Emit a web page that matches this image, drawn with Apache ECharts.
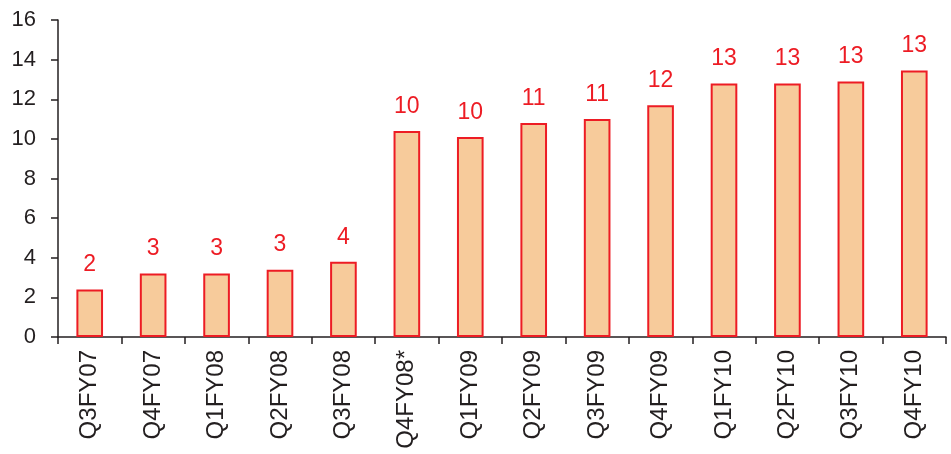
<!DOCTYPE html>
<html>
<head>
<meta charset="utf-8">
<script src="https://cdn.jsdelivr.net/npm/echarts@6/dist/echarts.min.js"></script>
<style>
  html, body { margin: 0; padding: 0; background: #ffffff; }
  #chart { width: 951px; height: 454px; }
</style>
</head>
<body>
<div id="chart"></div>
<script>
// Quarterly values
const quarters = ['Q3FY07', 'Q4FY07', 'Q1FY08', 'Q2FY08', 'Q3FY08', 'Q4FY08*', 'Q1FY09',
                  'Q2FY09', 'Q3FY09', 'Q4FY09', 'Q1FY10', 'Q2FY10', 'Q3FY10', 'Q4FY10'];
const values = [2.4, 3.2, 3.2, 3.4, 3.8, 10.4, 10.1, 10.8, 11.0, 11.7, 12.8, 12.8, 12.9, 13.45];
const yTicks = { min: 0, max: 16, interval: 2 };

const axisColor = '#231f20';
const textFont = 'Liberation Sans, Arial, sans-serif';

const chart = echarts.init(document.getElementById('chart'), null, { renderer: 'canvas' });
chart.setOption({
  animation: false,
  backgroundColor: '#ffffff',
  grid: { left: 58, right: 5, top: 20, bottom: 117, containLabel: false },
  xAxis: {
    type: 'category',
    data: quarters,
    boundaryGap: true,
    axisLine: { show: true, lineStyle: { color: axisColor, width: 1.5 } },
    axisTick: { show: true, alignWithLabel: false, length: 7, lineStyle: { color: axisColor, width: 1.5 } },
    axisLabel: {
      rotate: 90, margin: 13, interval: 0,
      color: axisColor, fontSize: 24, fontFamily: textFont
    },
    splitLine: { show: false }
  },
  yAxis: {
    type: 'value',
    min: yTicks.min, max: yTicks.max, interval: yTicks.interval,
    axisLine: { show: true, lineStyle: { color: axisColor, width: 1.5 } },
    axisTick: { show: true, inside: false, length: 7, lineStyle: { color: axisColor, width: 1.5 } },
    axisLabel: { margin: 22, color: axisColor, fontSize: 22, fontFamily: textFont },
    splitLine: { show: false }
  },
  series: [{
    type: 'bar',
    data: values,
    barWidth: '42%',
    itemStyle: { color: '#f7cb9b', borderColor: '#ed1c24', borderWidth: 2 },
    label: {
      show: true,
      position: 'top',
      distance: 13,
      color: '#ed1c24',
      fontSize: 23,
      fontFamily: textFont,
      formatter: p => String(Math.round(p.value))
    }
  }]
});
</script>
</body>
</html>
